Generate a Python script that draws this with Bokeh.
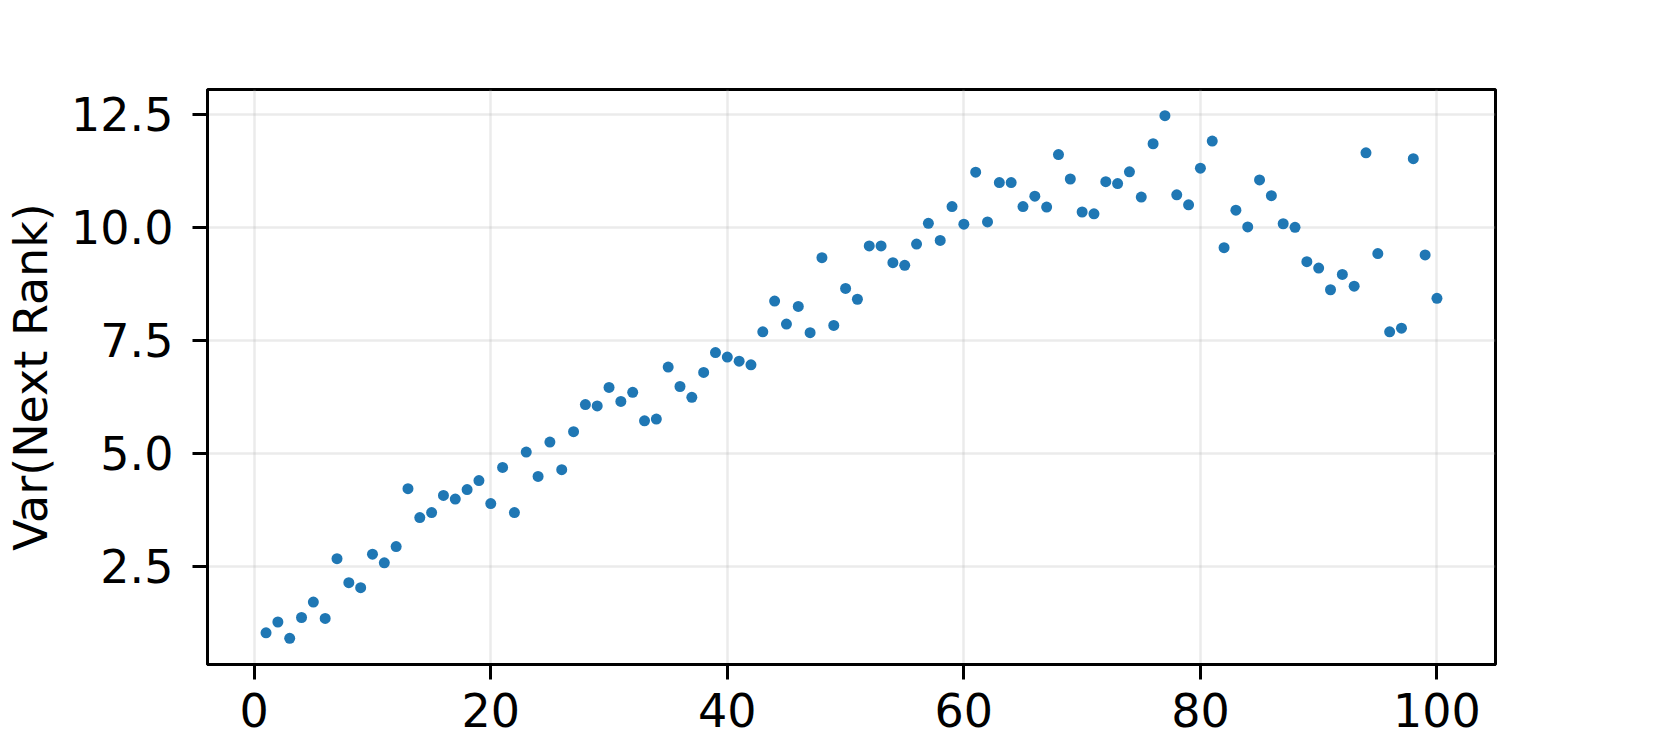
from bokeh.plotting import figure
from bokeh.models import Range1d, FixedTicker, PrintfTickFormatter
from bokeh.embed import file_html
from bokeh.resources import INLINE

rank = list(range(1, 101))
var_next_rank = [
    1.03, 1.27, 0.91, 1.37, 1.71, 1.35, 2.67, 2.14, 2.03, 2.77,
    2.58, 2.94, 4.22, 3.58, 3.69, 4.07, 3.99, 4.20, 4.40, 3.89,
    4.69, 3.69, 5.03, 4.49, 5.25, 4.64, 5.48, 6.08, 6.05, 6.46,
    6.15, 6.35, 5.72, 5.76, 6.91, 6.48, 6.24, 6.79, 7.23, 7.13,
    7.04, 6.96, 7.69, 8.37, 7.86, 8.25, 7.67, 9.33, 7.83, 8.65,
    8.41, 9.59, 9.59, 9.22, 9.16, 9.63, 10.09, 9.71, 10.46, 10.07,
    11.22, 10.12, 10.99, 10.99, 10.46, 10.69, 10.45, 11.61, 11.07, 10.34,
    10.30, 11.01, 10.97, 11.23, 10.67, 11.85, 12.47, 10.72, 10.50, 11.31,
    11.91, 9.55, 10.38, 10.01, 11.05, 10.70, 10.08, 10.00, 9.24, 9.10,
    8.62, 8.96, 8.70, 11.65, 9.42, 7.69, 7.77, 11.52, 9.39, 8.43,
]
x_ticks = [0, 20, 40, 60, 80, 100]
y_ticks = [2.5, 5.0, 7.5, 10.0, 12.5]
y_label = "Var(Next Rank)"

FONT = "DejaVu Sans"
FS = "46px"

p = figure(width=1645, height=747, output_backend="svg", toolbar_location=None,
           x_range=Range1d(-3.95, 104.95), y_range=Range1d(0.33, 13.05),
           min_border_left=207, min_border_right=150, min_border_top=89, min_border_bottom=83)

p.scatter(rank, var_next_rank, size=11, fill_color="#1f77b4", line_color=None)

p.outline_line_color = "black"
p.outline_line_width = 3
p.background_fill_color = "white"
p.border_fill_color = "white"

for ax in (p.xaxis[0], p.yaxis[0]):
    ax.axis_line_color = "black"
    ax.axis_line_width = 3
    ax.major_tick_line_color = "black"
    ax.major_tick_line_width = 3
    ax.major_tick_out = 15
    ax.major_tick_in = 0
    ax.minor_tick_line_color = None
    ax.major_label_text_font = FONT
    ax.major_label_text_font_size = FS
    ax.major_label_text_color = "black"
    ax.axis_label_text_font = FONT
    ax.axis_label_text_font_size = FS
    ax.axis_label_text_font_style = "normal"
    ax.axis_label_text_color = "black"

p.xaxis[0].ticker = FixedTicker(ticks=x_ticks)
p.xaxis[0].formatter = PrintfTickFormatter(format="%d")
p.xaxis[0].major_label_standoff = 13
p.yaxis[0].ticker = FixedTicker(ticks=y_ticks)
p.yaxis[0].formatter = PrintfTickFormatter(format="%.1f")
p.yaxis[0].major_label_standoff = 19
p.yaxis[0].axis_label = y_label
p.yaxis[0].axis_label_standoff = 10

for g in (p.xgrid[0], p.ygrid[0]):
    g.grid_line_color = "#b0b0b0"
    g.grid_line_alpha = 0.25
    g.grid_line_width = 2.5

open("out.html", "w").write(file_html(p, INLINE))
